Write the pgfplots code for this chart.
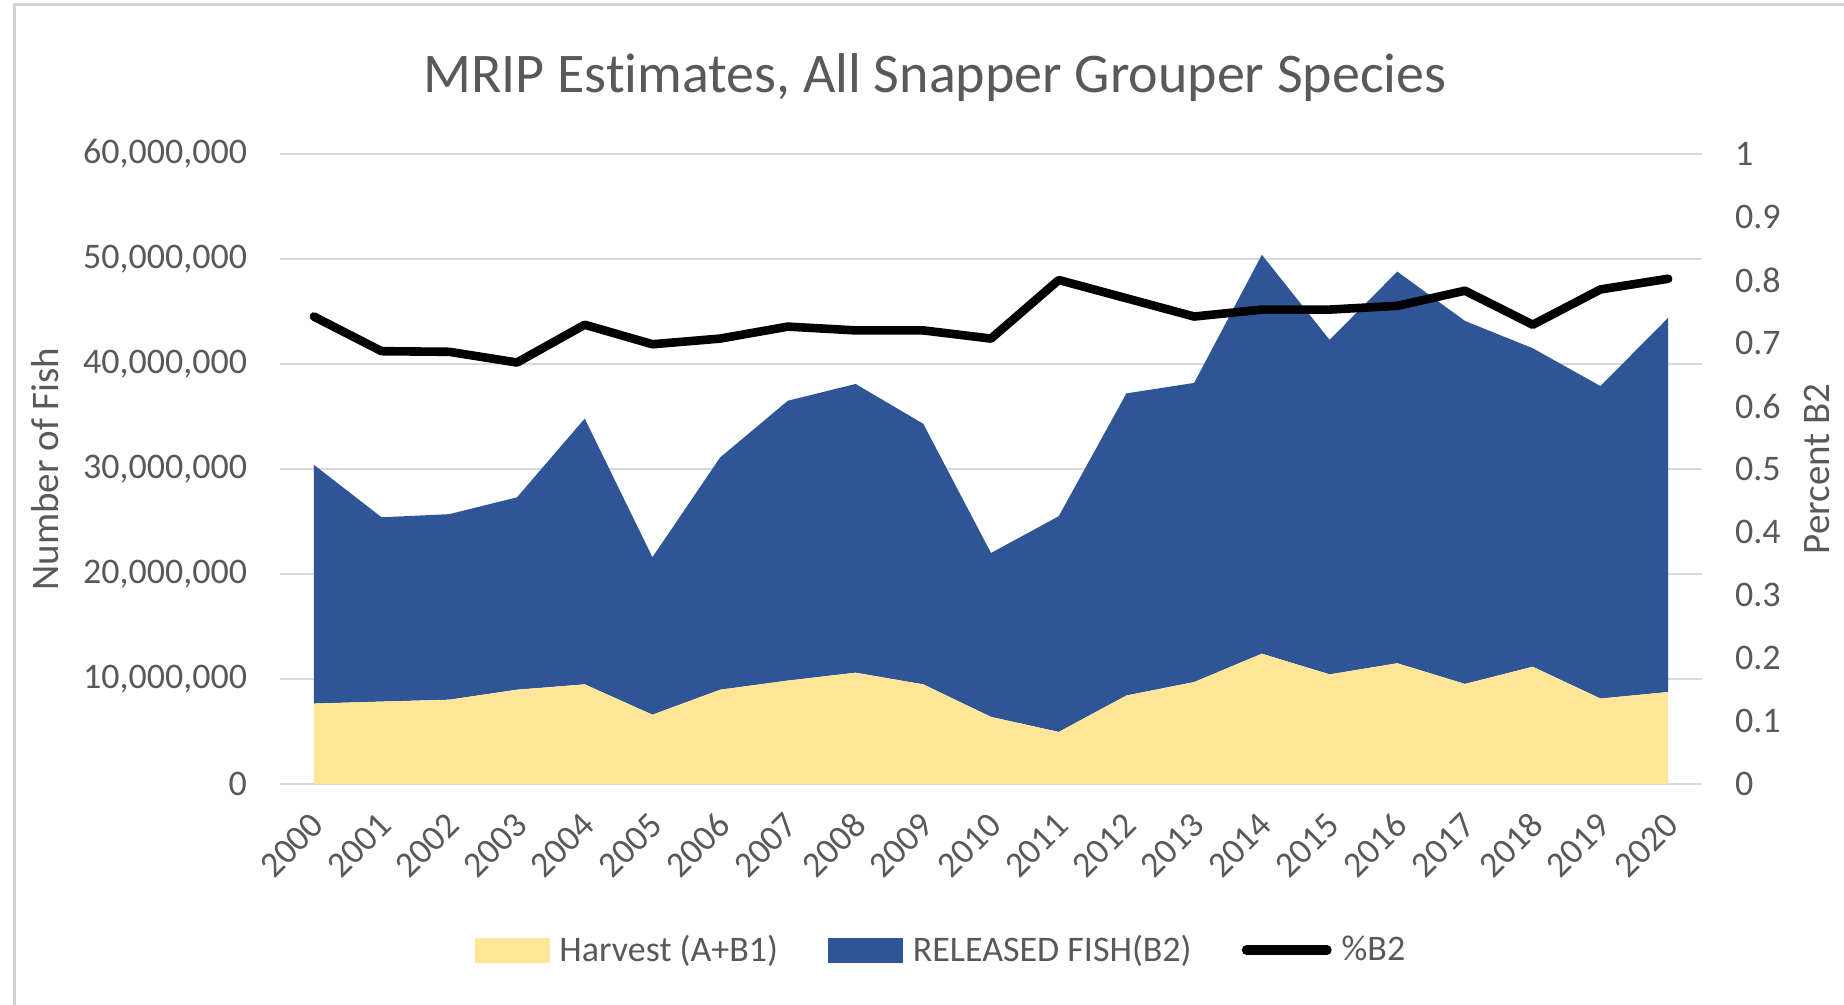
\documentclass[border=0pt]{standalone}
\usepackage{pgfplots}
\pgfplotsset{compat=1.18}
\usepackage{fontspec}
\setmainfont{Carlito}[Ligatures=NoCommon]
\definecolor{harvest}{HTML}{FFE699}
\definecolor{released}{HTML}{2F5597}
\definecolor{txt}{HTML}{595959}
\definecolor{gridc}{HTML}{D9D9D9}
\begin{document}
\begin{tikzpicture}
\useasboundingbox (0,0) rectangle (922bp,502.5bp);
\fill[white] (0,0) rectangle (922bp,502.5bp);
\draw[line width=1.5bp, color=gray!35] (7bp,0) -- (7bp,500bp) -- (922bp,500bp);
\begin{axis}[
  at={(140bp,110.5bp)}, anchor=south west,
  scale only axis, width=711bp, height=315bp,
  xmin=-0.5, xmax=20.5, ymin=0, ymax=60,
  axis line style={draw=none}, major tick length=0pt,
  ymajorgrids, grid style={gridc, line width=1.3bp},
  ytick={0,10,20,30,40,50,60},
  yticklabels={0,{10,000,000},{20,000,000},{30,000,000},{40,000,000},{50,000,000},{60,000,000}},
  xtick={0,...,20},
  xticklabels={2000,2001,2002,2003,2004,2005,2006,2007,2008,2009,2010,2011,2012,2013,2014,2015,2016,2017,2018,2019,2020},
  ticklabel style={font=\fontsize{18bp}{21bp}\selectfont, text=txt},
  yticklabel style={anchor=east, xshift=-13bp},
  xticklabel style={xshift=2bp, yshift=-17.5bp, rotate=45, anchor=east, inner sep=0pt},
  title={MRIP Estimates, All Snapper Grouper Species},
  title style={at={(axis description cs:0.4606,1.103)}, anchor=center, font=\fontsize{28bp}{33bp}\selectfont, text=txt},
  ylabel={Number of Fish},
  ylabel style={at={(axis description cs:-0.165,0.5)}, anchor=center, font=\fontsize{19.5bp}{23bp}\selectfont, text=txt},
  stack plots=y,
]
\addplot[fill=harvest, draw=none] coordinates {
(0,7.66) (1,7.85) (2,8.03) (3,8.98) (4,9.49) (5,6.60) (6,8.98) (7,9.85) (8,10.6) (9,9.49) (10,6.39)
(11,4.96) (12,8.43) (13,9.71) (14,12.41) (15,10.44) (16,11.5) (17,9.53) (18,11.17) (19,8.14) (20,8.76)} \closedcycle;
\addplot[fill=released, draw=none] coordinates {
(0,22.74) (1,17.55) (2,17.67) (3,18.32) (4,25.31) (5,15.0) (6,22.12) (7,26.65) (8,27.5) (9,24.81) (10,15.61)
(11,20.54) (12,28.77) (13,28.49) (14,37.99) (15,31.86) (16,37.3) (17,34.57) (18,30.33) (19,29.76) (20,35.64)} \closedcycle;
\end{axis}
\begin{axis}[
  at={(140bp,110.5bp)}, anchor=south west,
  scale only axis, width=711bp, height=315bp,
  xmin=-0.5, xmax=20.5, ymin=0, ymax=1,
  axis line style={draw=none}, major tick length=0pt,
  xtick=\empty,
  yticklabel pos=right,
  ytick={0,0.1,0.2,0.3,0.4,0.5,0.6,0.7,0.8,0.9,1},
  yticklabels={0,0.1,0.2,0.3,0.4,0.5,0.6,0.7,0.8,0.9,1},
  ticklabel style={font=\fontsize{18bp}{21bp}\selectfont, text=txt},
  yticklabel style={anchor=west, xshift=13bp},
  ylabel={Percent B2},
  ylabel style={at={(axis description cs:1.081,0.5)}, anchor=center, font=\fontsize{19.5bp}{23bp}\selectfont, text=txt},
  legend columns=3,
  legend style={at={(axis description cs:0.4655,-0.2635)}, anchor=center, draw=none, fill=none,
    font=\fontsize{18bp}{21bp}\selectfont, text=txt,
    /tikz/every odd column/.append style={column sep=3bp},
    /tikz/every even column/.append style={column sep=23bp}},
  legend cell align=left,
]
\addlegendimage{legend image code/.code={\fill[harvest] (0bp,-6bp) rectangle (37bp,6bp);}}
\addlegendentry{Harvest (A+B1)}
\addlegendimage{legend image code/.code={\fill[released] (0bp,-6bp) rectangle (37bp,6bp);}}
\addlegendentry{RELEASED FISH(B2)}
\addplot[black, line width=4.3bp, line join=round, line cap=round,
  legend image code/.code={\draw[black, line width=5bp, line cap=round] (0bp,0bp) -- (40bp,0bp);}] coordinates {
(0,0.742) (1,0.687) (2,0.686) (3,0.669) (4,0.729) (5,0.698) (6,0.707) (7,0.726) (8,0.720) (9,0.720) (10,0.707)
(11,0.800) (12,0.771) (13,0.742) (14,0.753) (15,0.753) (16,0.759) (17,0.783) (18,0.729) (19,0.785) (20,0.802)};
\addlegendentry{\%B2}
\end{axis}
\end{tikzpicture}
\end{document}
